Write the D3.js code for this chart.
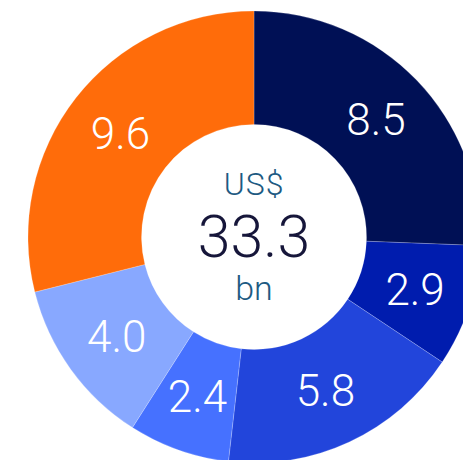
<!DOCTYPE html>
<html>
<head>
<meta charset="utf-8">
<script src="https://cdn.jsdelivr.net/npm/d3@7"></script>
<style>
  body { margin: 0; background: #fff; }
  svg text { font-family: Roboto, "Noto Sans", sans-serif; }
</style>
</head>
<body>
<div id="chart"></div>
<script>
var width = 463;
var height = 460;

// slices, clockwise from 12 o'clock
var labels = ["8.5", "2.9", "5.8", "2.4", "4.0", "9.6"];
var values = [8.5, 2.9, 5.8, 2.4, 4.0, 9.6];
var colors = ["#001055", "#001cae", "#2245db", "#4671ff", "#88a8ff", "#ff6c0a"];

var centerTop = "US$";
var centerTotal = "33.3";
var centerUnit = "bn";

var cx = 254;
var cy = 237;
var outerR = 226;
var innerR = 112.5;

var svg = d3
  .select("#chart")
  .append("svg")
  .attr("width", width)
  .attr("height", height)
  .append("g")
  .attr("transform", "translate(" + cx + "," + cy + ")");

var pie = d3
  .pie()
  .sort(null)
  .value(function(d) {
    return d;
  });

var arc = d3.arc().innerRadius(innerR).outerRadius(outerR);

var slices = pie(values);

svg
  .selectAll(".slice")
  .data(slices)
  .enter()
  .append("path")
  .attr("class", "slice")
  .attr("d", arc)
  .attr("fill", function(d, i) {
    return colors[i];
  })
  .attr("stroke", "rgba(255,255,255,0.35)")
  .attr("stroke-width", 0.6);

svg
  .selectAll(".lbl")
  .data(slices)
  .enter()
  .append("text")
  .attr("class", "lbl")
  .attr("transform", function(d) {
    var c = arc.centroid(d);
    return "translate(" + c[0] + "," + c[1] + ")";
  })
  .attr("text-anchor", "middle")
  .attr("dy", "0.36em")
  .attr("fill", "#fff")
  .attr("font-size", 44)
  .attr("font-weight", 300)
  .text(function(d, i) {
    return labels[i];
  });

// centre text
svg
  .append("text")
  .attr("text-anchor", "middle")
  .attr("y", 195 - cy)
  .attr("fill", "#1d5a82")
  .attr("font-size", 32)
  .attr("font-weight", 300)
  .attr("letter-spacing", 1)
  .text(centerTop);

svg
  .append("text")
  .attr("text-anchor", "middle")
  .attr("y", 257 - cy)
  .attr("fill", "#16163a")
  .attr("font-size", 59)
  .attr("font-weight", 300)
  .text(centerTotal);

svg
  .append("text")
  .attr("text-anchor", "middle")
  .attr("y", 300 - cy)
  .attr("fill", "#1d5a82")
  .attr("font-size", 34)
  .attr("font-weight", 300)
  .text(centerUnit);
</script>
</body>
</html>
